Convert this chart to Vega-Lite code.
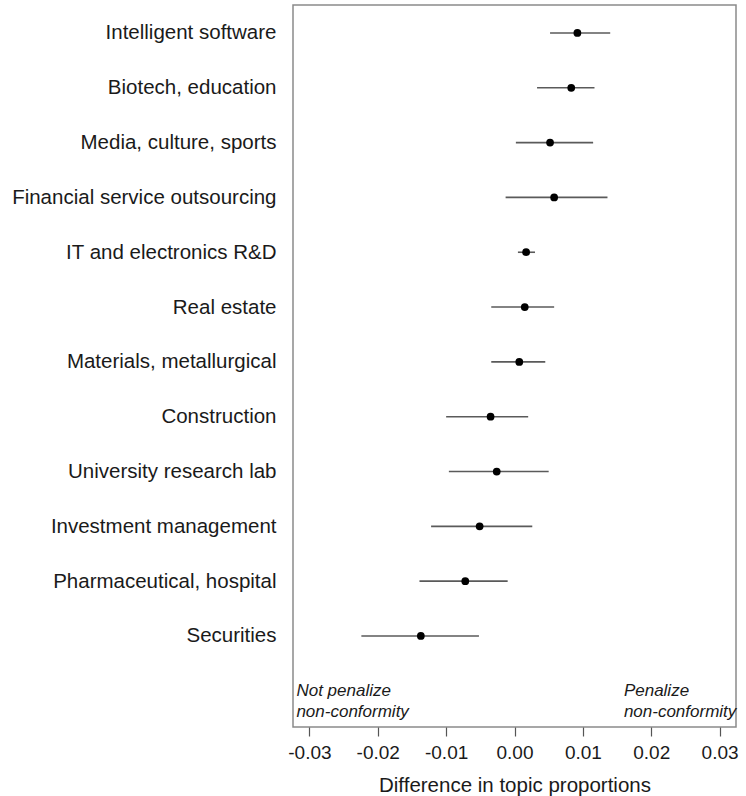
{
  "$schema": "https://vega.github.io/schema/vega-lite/v6.json",
  "autosize": {"type": "none"},
  "padding": {"left": 293, "top": 5, "right": 10, "bottom": 69},
  "width": 443,
  "height": 722,
  "background": "white",
  "config": {
    "font": "Liberation Sans",
    "view": {"stroke": "#8a8a8a", "strokeWidth": 1.5},
    "axis": {"grid": false}
  },
  "datasets": {
    "est": [
      {"sector": "Intelligent software", "rank": 12, "est": 0.0092, "lo": 0.0052, "hi": 0.0140},
      {"sector": "Biotech, education", "rank": 11, "est": 0.0083, "lo": 0.0033, "hi": 0.0117},
      {"sector": "Media, culture, sports", "rank": 10, "est": 0.0052, "lo": 0.0002, "hi": 0.0115},
      {"sector": "Financial service outsourcing", "rank": 9, "est": 0.0058, "lo": -0.0013, "hi": 0.0136},
      {"sector": "IT and electronics R&D", "rank": 8, "est": 0.0017, "lo": 0.0005, "hi": 0.0030},
      {"sector": "Real estate", "rank": 7, "est": 0.0015, "lo": -0.0034, "hi": 0.0058},
      {"sector": "Materials, metallurgical", "rank": 6, "est": 0.0007, "lo": -0.0034, "hi": 0.0045},
      {"sector": "Construction", "rank": 5, "est": -0.0035, "lo": -0.0100, "hi": 0.0020},
      {"sector": "University research lab", "rank": 4, "est": -0.0026, "lo": -0.0096, "hi": 0.0050},
      {"sector": "Investment management", "rank": 3, "est": -0.0051, "lo": -0.0122, "hi": 0.0026},
      {"sector": "Pharmaceutical, hospital", "rank": 2, "est": -0.0072, "lo": -0.0139, "hi": -0.0010},
      {"sector": "Securities", "rank": 1, "est": -0.0137, "lo": -0.0224, "hi": -0.0052}
    ],
    "notes": [
      {"x": -0.0319, "y": -0.01, "label": ["Not penalize", "non-conformity"]},
      {"x": 0.0160, "y": -0.01, "label": ["Penalize", "non-conformity"]}
    ]
  },
  "encoding": {
    "x": {
      "type": "quantitative",
      "scale": {"domain": [-0.0324, 0.0324], "nice": false, "zero": false},
      "axis": {
        "values": [-0.03, -0.02, -0.01, 0, 0.01, 0.02, 0.03],
        "labelExpr": "datum.value < 0 ? '-' + format(-datum.value, '.2f') : format(datum.value, '.2f')",
        "domain": false,
        "ticks": true,
        "tickSize": 9,
        "tickColor": "#555555",
        "tickWidth": 1.2,
        "labelFontSize": 19,
        "labelColor": "#1a1a1a",
        "labelPadding": 7,
        "labelFlush": false,
        "title": "Difference in topic proportions",
        "titleFontSize": 20.5,
        "titleFontWeight": "normal",
        "titleColor": "#1a1a1a",
        "titlePadding": 13
      }
    },
    "y": {
      "type": "quantitative",
      "scale": {"domain": [-0.66, 12.51], "nice": false, "zero": false},
      "axis": {
        "values": [1, 2, 3, 4, 5, 6, 7, 8, 9, 10, 11, 12],
        "labelExpr": "['', 'Securities', 'Pharmaceutical, hospital', 'Investment management', 'University research lab', 'Construction', 'Materials, metallurgical', 'Real estate', 'IT and electronics R&D', 'Financial service outsourcing', 'Media, culture, sports', 'Biotech, education', 'Intelligent software'][datum.value]",
        "domain": false,
        "ticks": false,
        "labelFontSize": 20.5,
        "labelLimit": 0,
        "labelColor": "#1a1a1a",
        "labelPadding": 17,
        "title": null
      }
    }
  },
  "layer": [
    {
      "mark": {"type": "rule", "stroke": "#777777", "strokeDash": [4, 4], "strokeWidth": 1.2},
      "encoding": {
        "x": {"datum": 0},
        "y": {"datum": 0},
        "y2": {"datum": 12.51}
      }
    },
    {
      "data": {"name": "est"},
      "mark": {"type": "rule", "stroke": "#5a5a5a", "strokeWidth": 1.6},
      "encoding": {
        "x": {"field": "lo"},
        "x2": {"field": "hi"},
        "y": {"field": "rank"}
      }
    },
    {
      "data": {"name": "est"},
      "mark": {"type": "point", "filled": true, "color": "#000000", "opacity": 1, "size": 60},
      "encoding": {
        "x": {"field": "est"},
        "y": {"field": "rank"}
      }
    },
    {
      "data": {"name": "notes"},
      "mark": {"type": "text", "align": "left", "baseline": "middle", "fontStyle": "italic", "fontSize": 17, "lineHeight": 20.7, "color": "#1a1a1a"},
      "encoding": {
        "x": {"field": "x"},
        "y": {"field": "y"},
        "text": {"field": "label"}
      }
    }
  ]
}
